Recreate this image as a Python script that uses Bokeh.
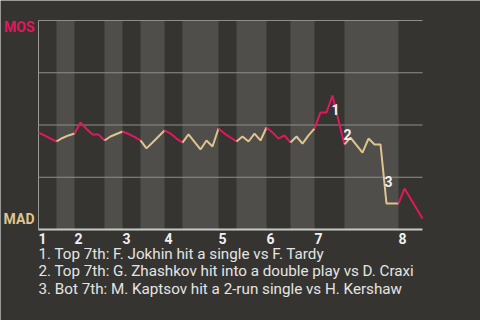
from bokeh.plotting import figure
from bokeh.models import Range1d, ColumnDataSource
from bokeh.core.properties import value
from bokeh.embed import file_html
from bokeh.resources import INLINE

# Win probability for MOS (1 = MOS, 0 = MAD), one value per play
plays = list(range(65))
wp = [0.464, 0.450, 0.435, 0.421, 0.438, 0.450, 0.459, 0.512, 0.481, 0.455,
      0.455, 0.426, 0.445, 0.457, 0.469, 0.457, 0.443, 0.426, 0.388, 0.416,
      0.445, 0.474, 0.459, 0.435, 0.416, 0.455, 0.419, 0.383, 0.426, 0.397,
      0.483, 0.459, 0.440, 0.421, 0.445, 0.421, 0.459, 0.426, 0.488, 0.464,
      0.435, 0.450, 0.416, 0.445, 0.411, 0.450, 0.483, 0.560, 0.560, 0.641,
      0.522, 0.407, 0.440, 0.404, 0.368, 0.435, 0.407, 0.407, 0.124, 0.124,
      0.124, 0.196, 0.148, 0.100, 0.053]

# play index where each half-inning starts (last value = end of data)
half_starts = [0, 3, 6, 11, 14, 17, 21, 24, 30, 33, 38, 42, 46, 51, 60, 64]
innings = ["1", "2", "3", "4", "5", "6", "7", "8"]
grid_ticks = [0.25, 0.5, 0.75, 1.0]

event_plays = [49, 51, 58]
event_labels = ["1", "2", "3"]
event_dx = [3, 3, 2]
event_dy = [14, -10, -22]
notes = [
    "1. Top 7th: F. Jokhin hit a single vs F. Tardy",
    "2. Top 7th: G. Zhashkov hit into a double play vs D. Craxi",
    "3. Bot 7th: M. Kaptsov hit a 2-run single vs H. Kershaw",
]
team_top, team_bottom = "MOS", "MAD"

BG = "#353430"
BAND = "#4f4e4b"
RED = "#e3175c"
TAN = "#dfc48e"
FONT = value("Roboto")

# layout: chart area in pixels on the 480x320 canvas
W, H = 480, 320
L, R, T, B = 38, 422, 20, 229
n = half_starts[-1]
xs = (R - L) / n
ys = (B - T)
x_range = Range1d(-L / xs, (W - L) / xs)
y_range = Range1d((B - H) / ys, B / ys)

p = figure(width=W, height=H, output_backend="svg", toolbar_location=None,
           x_axis_location=None, y_axis_location=None,
           x_range=x_range, y_range=y_range, min_border=0)
p.background_fill_color = BG
p.border_fill_color = BG
p.outline_line_color = None
p.xgrid.visible = False
p.ygrid.visible = False

# bottom-half shading
lefts = [half_starts[i] for i in range(1, len(half_starts) - 1, 2)]
rights = [half_starts[i + 1] for i in range(1, len(half_starts) - 1, 2)]
p.quad(left=lefts, right=rights, bottom=0, top=1, fill_color=BAND, line_color=None)

# gridlines and axis lines
p.segment(x0=[0] * len(grid_ticks), x1=[n] * len(grid_ticks), y0=grid_ticks, y1=grid_ticks,
          line_color="#8e8e8c", line_width=1)
p.segment(x0=[0], x1=[0], y0=[0], y1=[1], line_color="#9a9a98", line_width=1)
p.segment(x0=[0], x1=[n], y0=[0], y1=[0], line_color="#c8c8c6", line_width=2)

for i in range(len(half_starts) - 1):
    s, e = half_starts[i], half_starts[i + 1]
    p.line(plays[s:e + 1], wp[s:e + 1], line_color=RED if i % 2 == 0 else TAN,
           line_width=2)

ev_src = ColumnDataSource(dict(x=event_plays, y=[wp[i] for i in event_plays],
                               t=event_labels, dx=event_dx, dy=event_dy))
p.text(x="x", y="y", text="t", source=ev_src, x_offset="dx", y_offset="dy",
       text_align="center", text_baseline="middle", text_font=FONT,
       text_font_style="bold", text_font_size="14px", text_color="#f2f2f2")

inn_src = ColumnDataSource(dict(x=half_starts[0:-1:2], y=[0] * len(innings), t=innings))
p.text(x="x", y="y", text="t", source=inn_src, x_offset=4, y_offset=9,
       text_align="center", text_baseline="middle", text_font=FONT,
       text_font_style="bold", text_font_size="14px", text_color="#f0f0f0")

p.text(x=[0], y=[1], text=[team_top], x_offset=-4, y_offset=6, text_align="right",
       text_baseline="middle", text_font=FONT, text_font_style="bold",
       text_font_size="14px", text_color=RED)
p.text(x=[0], y=[0], text=[team_bottom], x_offset=-4, y_offset=-11, text_align="right",
       text_baseline="middle", text_font=FONT, text_font_style="bold",
       text_font_size="14px", text_color=TAN)

note_src = ColumnDataSource(dict(x=[0] * len(notes), y=[0] * len(notes), t=notes,
                                 dy=[24 + 17.5 * k for k in range(len(notes))]))
p.text(x="x", y="y", text="t", source=note_src, y_offset="dy",
       text_align="left", text_baseline="middle", text_font=FONT,
       text_font_size="15.2px", text_color="#e4e4e4")

open("out.html", "w").write(file_html(p, INLINE))
